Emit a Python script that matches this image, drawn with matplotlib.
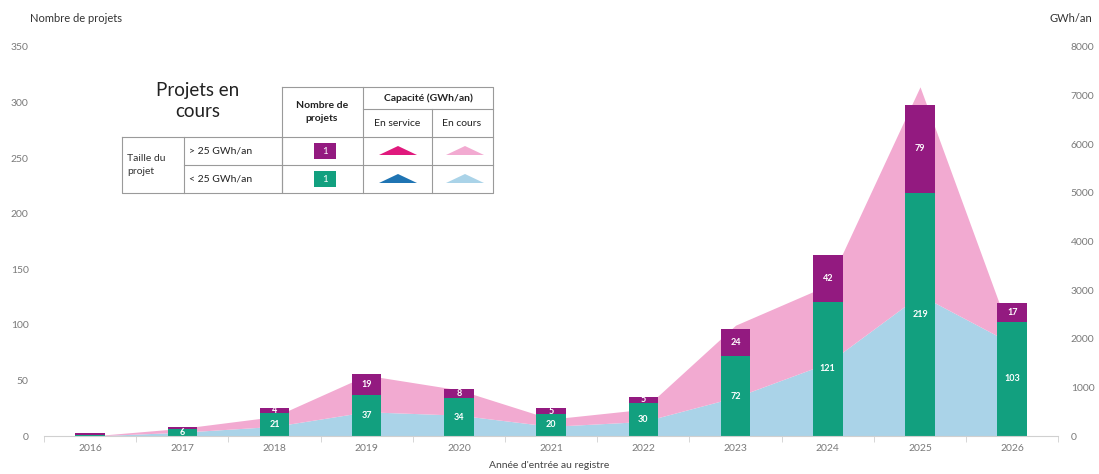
#!/usr/bin/env python3
"""Projets en cours par annee d'entree au registre (barres + capacite en aires)."""

import matplotlib
matplotlib.use("Agg")
import matplotlib.pyplot as plt
from matplotlib.patches import Rectangle, Polygon

years = ["2016", "2017", "2018", "2019", "2020", "2021", "2022", "2023", "2024", "2025", "2026"]
small_projects = [1, 6, 21, 37, 34, 20, 30, 72, 121, 219, 103]   # < 25 GWh/an
large_projects = [2, 2, 4, 19, 8, 5, 5, 24, 42, 79, 17]          # > 25 GWh/an

# capacite en cours (GWh/an), aires empilees
cap_small = [0, 80, 200, 500, 430, 200, 300, 800, 1500, 2900, 1900]
cap_large = [0, 80, 200, 750, 520, 150, 250, 1480, 1600, 4280, 100]

GREEN = "#12a07f"
PURPLE = "#931a80"
PINK_LIGHT = "#f2aad1"
BLUE_LIGHT = "#aad3e8"
PINK_DARK = "#e0197d"
BLUE_DARK = "#1f74b3"
GREY = "#7a7a7a"

plt.rcParams["font.family"] = ["Lato", "DejaVu Sans"]

fig = plt.figure(figsize=(10.99, 4.74), dpi=100)
ax = fig.add_axes([0.040, 0.080, 0.923, 0.821])
ax2 = ax.twinx()
ax.set_zorder(ax2.get_zorder() + 1)
ax.patch.set_visible(False)

x = list(range(len(years)))
cap_top = [s + l for s, l in zip(cap_small, cap_large)]
ax2.fill_between(x, 0, cap_small, color=BLUE_LIGHT, lw=0)
ax2.fill_between(x, cap_small, cap_top, color=PINK_LIGHT, lw=0)

bw = 0.32
ax.bar(x, small_projects, width=bw, color=GREEN, lw=0)
ax.bar(x, large_projects, width=bw, bottom=small_projects, color=PURPLE, lw=0)

for i in x:
  s, l = small_projects[i], large_projects[i]
  if s >= 4:
    ax.text(i, s / 2, str(s), ha="center", va="center", color="white",
            fontsize=6.5, fontweight="bold")
  if l >= 4:
    ax.text(i, s + l / 2, str(l), ha="center", va="center", color="white",
            fontsize=6.5, fontweight="bold")

ax.set_xlim(-0.5, len(years) - 0.5)
ax.set_ylim(0, 350)
ax2.set_ylim(0, 8000)
ax.set_yticks(range(0, 351, 50))
ax2.set_yticks(range(0, 8001, 1000))
ax.set_xticks(x)
ax.set_xticklabels(years)
ax.set_xticks([i - 0.5 for i in range(len(years) + 1)], minor=True)

for a in (ax, ax2):
  for side in ("top", "left", "right"):
    a.spines[side].set_visible(False)
  a.spines["bottom"].set_color("#d0d0d0")
  a.tick_params(axis="y", length=0, labelsize=7.5, labelcolor=GREY)
ax2.spines["bottom"].set_visible(False)
ax.tick_params(axis="y", pad=11)
ax2.tick_params(axis="y", pad=9)
ax.tick_params(axis="x", which="major", length=0, labelsize=7.5, labelcolor=GREY, pad=6)
ax.tick_params(axis="x", which="minor", length=4, color="#d0d0d0")

fig.text(0.027, 0.962, "Nombre de projets", fontsize=8, color="#333333", va="center")
fig.text(0.994, 0.962, "GWh/an", fontsize=8, color="#333333", va="center", ha="right")
fig.text(0.50, 0.018, "Année d'entrée au registre", fontsize=7.5, color="#444444", ha="center", va="center")

# legend table drawn in pixel coordinates
lg = fig.add_axes([0, 0, 1, 1], zorder=10)
lg.set_xlim(0, 1099)
lg.set_ylim(474, 0)
lg.axis("off")
line_kw = dict(color="#9a9a9a", lw=0.8)

lg.plot([282, 493, 493, 282, 282], [87, 87, 193, 193, 87], **line_kw)
lg.plot([122, 282, 282, 122, 122], [137, 137, 193, 193, 137], **line_kw)
lg.plot([363, 363], [87, 193], **line_kw)
lg.plot([363, 493], [109, 109], **line_kw)
lg.plot([432, 432], [109, 193], **line_kw)
lg.plot([282, 493], [137, 137], **line_kw)
lg.plot([184, 493], [165, 165], **line_kw)
lg.plot([184, 184], [137, 193], **line_kw)

lg.text(198, 101, "Projets en\ncours", fontsize=13.5, ha="center", va="center",
        linespacing=1.35, color="#222222")
lg.text(322, 112, "Nombre de\nprojets", fontsize=7.5, fontweight="bold",
        ha="center", va="center", linespacing=1.5, color="#222222")
lg.text(428, 98, "Capacité (GWh/an)", fontsize=7.5, fontweight="bold",
        ha="center", va="center", color="#222222")
lg.text(397, 123, "En service", fontsize=7.5, ha="center", va="center", color="#222222")
lg.text(462, 123, "En cours", fontsize=7.5, ha="center", va="center", color="#222222")
lg.text(127, 165, "Taille du\nprojet", fontsize=7.5, ha="left", va="center",
        linespacing=1.6, color="#333333")
lg.text(189, 151, "> 25 GWh/an", fontsize=7.5, ha="left", va="center", color="#222222")
lg.text(189, 179, "< 25 GWh/an", fontsize=7.5, ha="left", va="center", color="#222222")

for cy, col in ((151, PURPLE), (179, GREEN)):
  lg.add_patch(Rectangle((314, cy - 8), 22, 16, color=col, lw=0))
  lg.text(325, cy, "1", fontsize=7, color="white", ha="center", va="center")

for cx, cy, col in ((398, 151, PINK_DARK), (465, 151, PINK_LIGHT),
                    (398, 179, BLUE_DARK), (465, 179, BLUE_LIGHT)):
  lg.add_patch(Polygon([(cx - 19, cy + 4), (cx + 19, cy + 4), (cx, cy - 5)],
                       closed=True, color=col, lw=0))

fig.savefig("out.png", dpi=100)
